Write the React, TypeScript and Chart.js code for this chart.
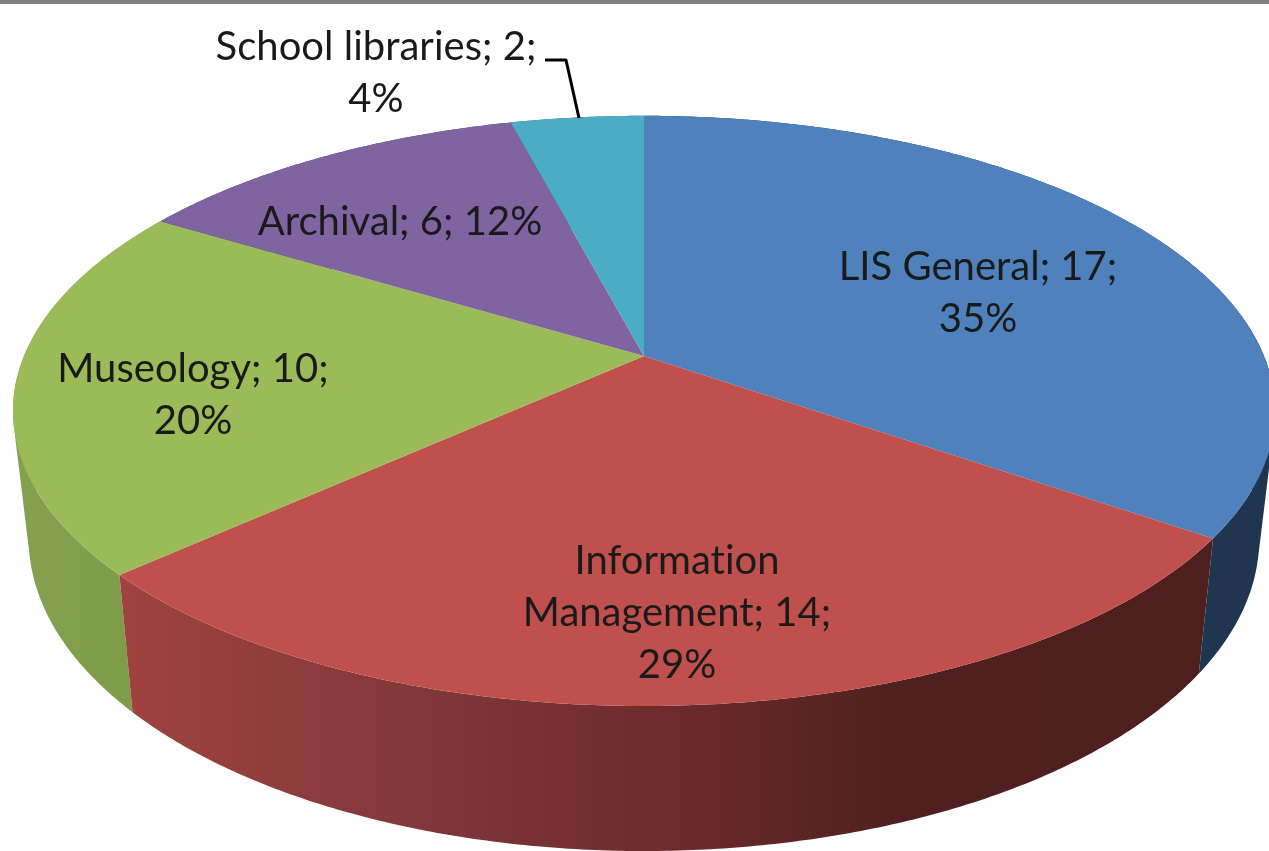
import React, { useEffect, useRef } from "react";
import { Chart, registerables } from "chart.js";

Chart.register(...registerables);

const categories = ["LIS General", "Information Management", "Museology", "Archival", "School libraries"];
const values = [17, 14, 10, 6, 2];
const faceColors = ["#4f81bd", "#c0504d", "#9bbb59", "#8064a2", "#4bacc6"];
const labelLines = [
  ["LIS General; 17;", "35%"],
  ["Information", "Management; 14;", "29%"],
  ["Museology; 10;", "20%"],
  ["Archival; 6; 12%"],
  ["School libraries; 2;", "4%"],
];

// Layout of the tilted disc (perspective projection of the library's arc angles)
const CX = 644;
const TOP_Y = 356;
const BOTTOM_Y = 480.5;
const PERSP = 0.186;
const TOP_A = 620;
const TOP_B = 284.9;
const BOTTOM_A = 604.5;
const BOTTOM_B = 301.6;
const labelAnchors = [
  { x: 978, y: 280 },
  { x: 677, y: 574 },
  { x: 193, y: 382 },
  { x: 400, y: 235 },
  { x: 376, y: 60 },
];
const LINE_H = 52;
const FONT = '40px Lato, "Open Sans", sans-serif';

const project = (a: number, cy: number, ra: number, rb: number) => {
  const u = Math.cos(a);
  const v = Math.sin(a);
  const d = 1 - PERSP * v;
  return { x: CX + (ra * u) / d, y: cy + (rb * v) / d };
};

const sideGradient = (ctx: CanvasRenderingContext2D, i: number) => {
  const g = ctx.createLinearGradient(0, 0, 1269, 0);
  if (i === 1) {
    g.addColorStop(0.09, "#a04340");
    g.addColorStop(0.32, "#82383a");
    g.addColorStop(0.51, "#6f2c2d");
    g.addColorStop(0.71, "#4f201f");
    g.addColorStop(1, "#4d1f1e");
  } else if (i === 2) {
    g.addColorStop(0, "#86a251");
    g.addColorStop(0.11, "#7d9b49");
  } else if (i === 0) {
    g.addColorStop(0, "#1f3550");
    g.addColorStop(1, "#1f3550");
  } else {
    g.addColorStop(0, "#4d3c62");
    g.addColorStop(1, "#2d6a7a");
  }
  return g;
};

const discPlugin = {
  id: "tiltedDisc",
  beforeDatasetsDraw(chart: any) {
    const ctx: CanvasRenderingContext2D = chart.ctx;
    const arcs = chart.getDatasetMeta(0).data;
    const STEP = Math.PI / 360;

    ctx.save();
    ctx.fillStyle = "#ffffff";
    ctx.fillRect(0, 0, 1269, 851);
    ctx.fillStyle = "#808080";
    ctx.fillRect(0, 0, 1269, 4);

    const trace = (s: number, e: number, cy: number, ra: number, rb: number) => {
      const n = Math.max(2, Math.ceil((e - s) / STEP));
      for (let k = 0; k <= n; k++) {
        const p = project(s + ((e - s) * k) / n, cy, ra, rb);
        ctx.lineTo(p.x, p.y);
      }
    };

    // side walls: one path of consistently wound quads per slice
    [3, 4, 0, 2, 1].forEach((i) => {
      const arc = arcs[i];
      const n = Math.max(2, Math.ceil((arc.endAngle - arc.startAngle) / STEP));
      ctx.beginPath();
      for (let k = 0; k < n; k++) {
        const a0 = arc.startAngle + ((arc.endAngle - arc.startAngle) * k) / n;
        const a1 = arc.startAngle + ((arc.endAngle - arc.startAngle) * (k + 1)) / n;
        const quad = [
          project(a0, TOP_Y, TOP_A, TOP_B),
          project(a1, TOP_Y, TOP_A, TOP_B),
          project(a1, BOTTOM_Y, BOTTOM_A, BOTTOM_B),
          project(a0, BOTTOM_Y, BOTTOM_A, BOTTOM_B),
        ];
        let area = 0;
        quad.forEach((p, j) => {
          const q = quad[(j + 1) % 4];
          area += p.x * q.y - q.x * p.y;
        });
        if (area < 0) quad.reverse();
        ctx.moveTo(quad[0].x, quad[0].y);
        for (let j = 1; j < 4; j++) ctx.lineTo(quad[j].x, quad[j].y);
        ctx.closePath();
      }
      ctx.fillStyle = sideGradient(ctx, i);
      ctx.fill();
    });

    // top faces
    arcs.forEach((arc: any, i: number) => {
      ctx.beginPath();
      ctx.moveTo(CX, TOP_Y);
      trace(arc.startAngle, arc.endAngle, TOP_Y, TOP_A, TOP_B);
      ctx.closePath();
      ctx.fillStyle = faceColors[i];
      ctx.fill();
    });

    // leader line of the small slice
    ctx.strokeStyle = "#000000";
    ctx.lineWidth = 3;
    ctx.lineJoin = "round";
    ctx.beginPath();
    ctx.moveTo(545, 60);
    ctx.lineTo(566, 60);
    ctx.lineTo(579, 118);
    ctx.stroke();

    // data labels
    ctx.font = FONT;
    (ctx as any).letterSpacing = "0.01px";
    ctx.fillStyle = "#1a1a1a";
    ctx.textAlign = "center";
    ctx.textBaseline = "alphabetic";
    labelLines.forEach((lines, i) => {
      lines.forEach((line, j) => {
        ctx.fillText(line, labelAnchors[i].x, labelAnchors[i].y + j * LINE_H);
      });
    });
    ctx.restore();
    return false;
  },
};

export default function App() {
  const ref = useRef<HTMLCanvasElement>(null);
  useEffect(() => {
    document.body.style.margin = "0";
    const chart = new Chart(ref.current!, {
      type: "pie",
      data: {
        labels: categories,
        datasets: [{ data: values, backgroundColor: faceColors, borderWidth: 0 }],
      },
      options: {
        responsive: false,
        animation: false,
        events: [],
        plugins: { legend: { display: false }, tooltip: { enabled: false } },
      },
      plugins: [discPlugin],
    } as any);
    return () => chart.destroy();
  }, []);
  return <canvas ref={ref} width={1269} height={851} style={{ display: "block", filter: "blur(0.6px)" }} />;
}
